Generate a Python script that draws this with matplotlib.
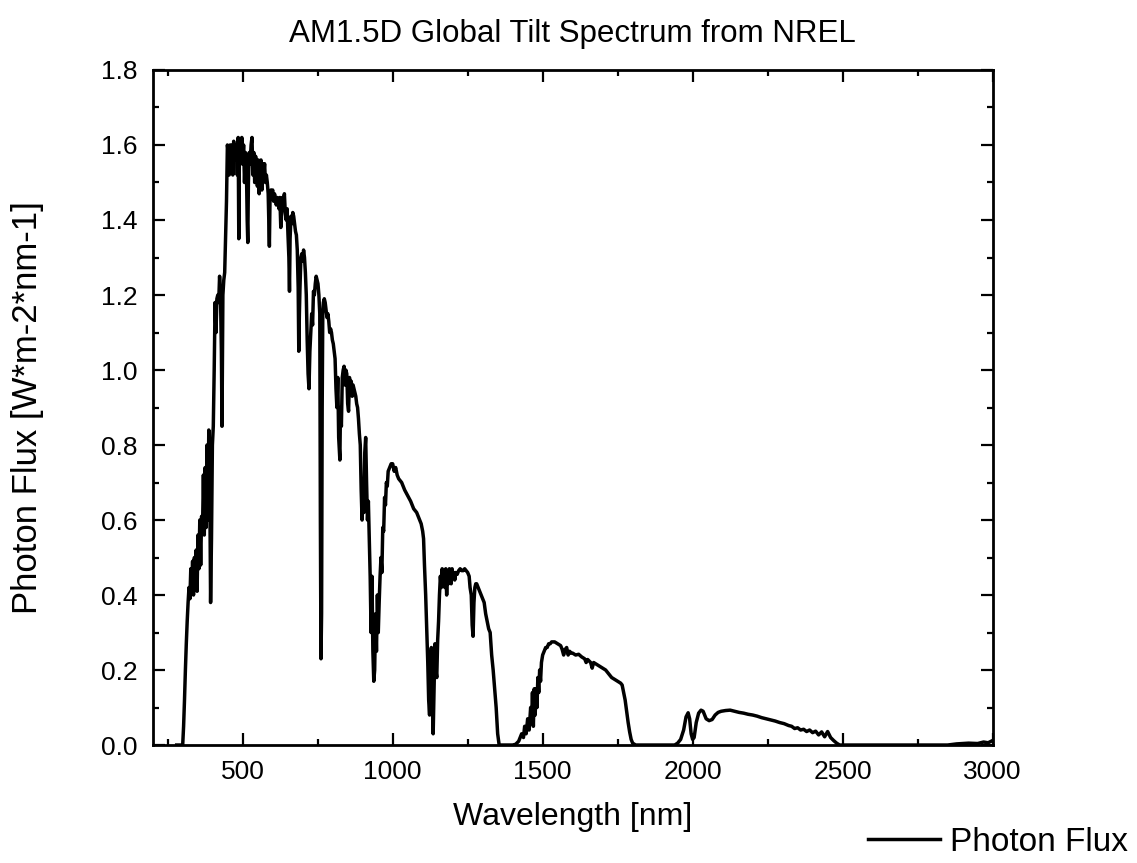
import matplotlib
matplotlib.use("Agg")
import matplotlib.pyplot as plt
from matplotlib.ticker import MultipleLocator

plt.rcParams['font.family'] = ['Liberation Sans', 'DejaVu Sans']

# wavelength (nm) and photon flux
wavelength = [
    280, 295, 300, 303, 306, 309, 312, 315, 318, 321, 324, 327, 330, 333, 336, 339,
    342, 345, 348, 351, 354, 357, 360, 363, 366, 369, 372, 375, 378, 381, 384, 387,
    390, 393, 396, 399, 402, 405, 408, 411, 414, 417, 420, 423, 426, 429, 431, 434,
    437, 440, 443, 446, 449, 452, 455, 458, 461, 464, 467, 470, 473, 476, 479, 482,
    485, 487, 489, 492, 495, 497, 500, 503, 506, 509, 512, 515, 517, 519, 522, 525,
    528, 531, 534, 537, 540, 543, 546, 549, 552, 555, 558, 561, 564, 567, 570, 573,
    576, 579, 582, 585, 587, 589, 591, 594, 597, 600, 603, 606, 609, 612, 615, 618,
    621, 624, 627, 630, 633, 636, 639, 642, 645, 648, 651, 654, 656, 658, 661, 664,
    667, 670, 673, 676, 679, 682, 685, 687, 689, 691, 694, 697, 700, 703, 706, 709,
    712, 715, 718, 721, 724, 727, 730, 733, 736, 739, 742, 745, 748, 751, 754, 757,
    759, 761, 763, 765, 767, 769, 772, 775, 778, 781, 784, 787, 790, 793, 796, 799,
    802, 805, 808, 811, 814, 817, 820, 822, 824, 826, 829, 832, 835, 838, 841, 844,
    847, 850, 853, 856, 859, 862, 865, 868, 871, 874, 877, 880, 883, 886, 889, 892,
    895, 898, 901, 904, 907, 910, 913, 916, 919, 922, 925, 928, 931, 934, 937, 940,
    943, 946, 949, 952, 955, 958, 961, 964, 967, 970, 973, 976, 979, 982, 985, 990,
    995, 1000, 1005, 1010, 1015, 1020, 1030, 1040, 1050, 1060, 1070, 1080, 1090, 1095,
    1100, 1103, 1106, 1110, 1114, 1117, 1120, 1123, 1126, 1129, 1132, 1135, 1138, 1141,
    1144, 1147, 1150, 1153, 1156, 1159, 1162, 1165, 1168, 1171, 1174, 1177, 1180, 1183,
    1186, 1189, 1192, 1195, 1198, 1201, 1204, 1207, 1210, 1215, 1220, 1225, 1230, 1235,
    1240, 1245, 1250, 1255, 1258, 1262, 1265, 1268, 1271, 1274, 1277, 1280, 1285, 1290,
    1295, 1300, 1305, 1310, 1315, 1320, 1325, 1330, 1335, 1340, 1345, 1350, 1355, 1400,
    1410, 1420, 1430, 1436, 1440, 1445, 1450, 1455, 1460, 1463, 1466, 1469, 1472, 1475,
    1478, 1481, 1484, 1487, 1490, 1493, 1496, 1500, 1505, 1510, 1515, 1520, 1525, 1530,
    1540, 1550, 1560, 1565, 1570, 1575, 1580, 1585, 1590, 1595, 1600, 1610, 1620, 1630,
    1640, 1645, 1650, 1660, 1665, 1670, 1680, 1690, 1700, 1710, 1720, 1730, 1740, 1750,
    1760, 1765, 1770, 1775, 1780, 1785, 1790, 1795, 1800, 1810, 1940, 1950, 1960, 1970,
    1978, 1985, 1990, 1995, 2000, 2005, 2012, 2020, 2028, 2035, 2045, 2055, 2065, 2075,
    2085, 2095, 2110, 2125, 2140, 2155, 2170, 2185, 2200, 2215, 2230, 2245, 2260, 2275,
    2290, 2305, 2320, 2330, 2340, 2350, 2360, 2370, 2380, 2390, 2400, 2410, 2420, 2430,
    2440, 2450, 2460, 2470, 2480, 2490, 2850, 2880, 2920, 2950, 2970, 2985, 3000,
]

photon_flux = [
    0.0, 0.0, 0.0, 0.05, 0.12, 0.2, 0.27, 0.33, 0.38, 0.42, 0.39, 0.47, 0.43, 0.49, 0.40, 0.5,
    0.45, 0.52, 0.41, 0.56, 0.47, 0.6, 0.48, 0.61, 0.57, 0.72, 0.56, 0.74, 0.58, 0.8, 0.6, 0.84,
    0.72, 0.38, 0.55, 0.8, 0.85, 1.0, 1.18, 1.1, 1.19, 1.2, 1.18, 1.25, 1.2, 1.05, 0.85, 1.2,
    1.24, 1.26, 1.35, 1.45, 1.6, 1.58, 1.52, 1.6, 1.55, 1.6, 1.52, 1.61, 1.56, 1.59, 1.6, 1.52,
    1.62, 1.35, 1.58, 1.61, 1.55, 1.62, 1.55, 1.6, 1.5, 1.58, 1.56, 1.4, 1.34, 1.5, 1.58, 1.55,
    1.6, 1.62, 1.52, 1.58, 1.5, 1.57, 1.55, 1.49, 1.56, 1.47, 1.53, 1.56, 1.48, 1.55, 1.52, 1.55,
    1.5, 1.52, 1.5, 1.47, 1.4, 1.33, 1.45, 1.48, 1.47, 1.48, 1.45, 1.47, 1.46, 1.44, 1.46, 1.45,
    1.43, 1.46, 1.38, 1.42, 1.46, 1.44, 1.47, 1.42, 1.4, 1.43, 1.36, 1.3, 1.21, 1.35, 1.41, 1.39,
    1.42, 1.41, 1.39, 1.37, 1.36, 1.32, 1.22, 1.05, 1.15, 1.22, 1.3, 1.31, 1.29, 1.32, 1.3, 1.26,
    1.2, 1.08, 0.99, 0.95, 1.05, 1.1, 1.15, 1.12, 1.21, 1.2, 1.23, 1.25, 1.24, 1.23, 1.2, 1.15,
    0.6, 0.23, 0.35, 0.9, 1.15, 1.18, 1.19, 1.18, 1.16, 1.14, 1.15, 1.13, 1.1, 1.11, 1.1, 1.08,
    1.07, 1.05, 1.03, 0.95, 0.9, 0.98, 0.82, 0.79, 0.76, 0.9, 0.85, 0.98, 1.0, 1.01, 0.96, 1.0,
    0.99, 0.91, 0.89, 0.98, 0.95, 0.97, 0.93, 0.96, 0.95, 0.94, 0.93, 0.91, 0.9, 0.87, 0.83, 0.8,
    0.68, 0.6, 0.7, 0.62, 0.78, 0.82, 0.7, 0.6, 0.65, 0.55, 0.45, 0.3, 0.45, 0.25, 0.17, 0.2,
    0.35, 0.25, 0.4, 0.3, 0.38, 0.45, 0.5, 0.46, 0.58, 0.57, 0.66, 0.64, 0.7, 0.69, 0.73, 0.74,
    0.75, 0.75, 0.73, 0.74, 0.72, 0.71, 0.7, 0.68, 0.665, 0.65, 0.63, 0.62, 0.6, 0.59,
    0.57, 0.55, 0.48, 0.4, 0.3, 0.22, 0.12, 0.08, 0.22, 0.26, 0.12, 0.03, 0.15, 0.27,
    0.2, 0.18, 0.28, 0.33, 0.4, 0.45, 0.42, 0.47, 0.44, 0.46, 0.42, 0.47, 0.4, 0.46,
    0.43, 0.47, 0.45, 0.43, 0.47, 0.45, 0.46, 0.44, 0.46, 0.455, 0.465, 0.47, 0.465, 0.465,
    0.47, 0.465, 0.46, 0.45, 0.42, 0.4, 0.32, 0.29, 0.38, 0.42, 0.43, 0.43, 0.42, 0.41,
    0.4, 0.39, 0.38, 0.35, 0.33, 0.31, 0.3, 0.24, 0.2, 0.15, 0.1, 0.03, 0.0, 0.0,
    0.002, 0.01, 0.03, 0.02, 0.05, 0.03, 0.07, 0.04, 0.1, 0.06, 0.14, 0.05, 0.15, 0.08,
    0.15, 0.1, 0.18, 0.14, 0.2, 0.17, 0.22, 0.24, 0.25, 0.26, 0.26, 0.27, 0.27, 0.275,
    0.275, 0.27, 0.265, 0.255, 0.24, 0.255, 0.26, 0.24, 0.25, 0.245, 0.245, 0.24, 0.242, 0.235,
    0.23, 0.22, 0.228, 0.22, 0.205, 0.22, 0.215, 0.21, 0.205, 0.2, 0.19, 0.18, 0.175, 0.17,
    0.165, 0.16, 0.14, 0.12, 0.09, 0.06, 0.035, 0.015, 0.005, 0.0, 0.0, 0.005, 0.015, 0.04,
    0.075, 0.086, 0.07, 0.03, 0.015, 0.02, 0.06, 0.085, 0.093, 0.09, 0.07, 0.065, 0.068, 0.08,
    0.087, 0.09, 0.092, 0.093, 0.09, 0.087, 0.085, 0.082, 0.08, 0.077, 0.073, 0.07, 0.067, 0.064,
    0.06, 0.057, 0.052, 0.05, 0.044, 0.046, 0.04, 0.042, 0.036, 0.04, 0.033, 0.037, 0.027, 0.035,
    0.022, 0.036, 0.02, 0.012, 0.005, 0.0, 0.0, 0.003, 0.005, 0.004, 0.008, 0.006, 0.012,
]

fig = plt.figure(figsize=(11.37, 8.63), dpi=100)
ax = fig.add_axes([0.1343, 0.1367, 0.7387, 0.7822])

ax.plot(wavelength, photon_flux, color='black', lw=2.5, label='Photon Flux')

ax.set_xlim(200, 3000)
ax.set_ylim(0, 1.8)
ax.xaxis.set_major_locator(MultipleLocator(500))
ax.xaxis.set_minor_locator(MultipleLocator(250))
ax.yaxis.set_major_locator(MultipleLocator(0.2))
ax.yaxis.set_minor_locator(MultipleLocator(0.1))
ax.yaxis.set_major_formatter(plt.FormatStrFormatter('%.1f'))

ax.tick_params(which='both', direction='in', top=True, right=True, width=1.6,
               labelsize=19, pad=11)
ax.tick_params(which='major', length=8.5)
ax.tick_params(which='minor', length=4.5)
for sp in ax.spines.values():
    sp.set_linewidth(2)

ax.set_xlabel('Wavelength [nm]', fontsize=23, labelpad=13)
ax.set_ylabel('Photon Flux [W*m-2*nm-1]', fontsize=25, labelpad=41)
ax.set_title('AM1.5D Global Tilt Spectrum from NREL', fontsize=22.5, pad=20)

fig.legend(loc='center left', bbox_to_anchor=(0.752, 0.024), frameon=False,
           fontsize=24, handlelength=2.15, handletextpad=0.3, borderaxespad=0)

fig.savefig('out.png', dpi=100)
